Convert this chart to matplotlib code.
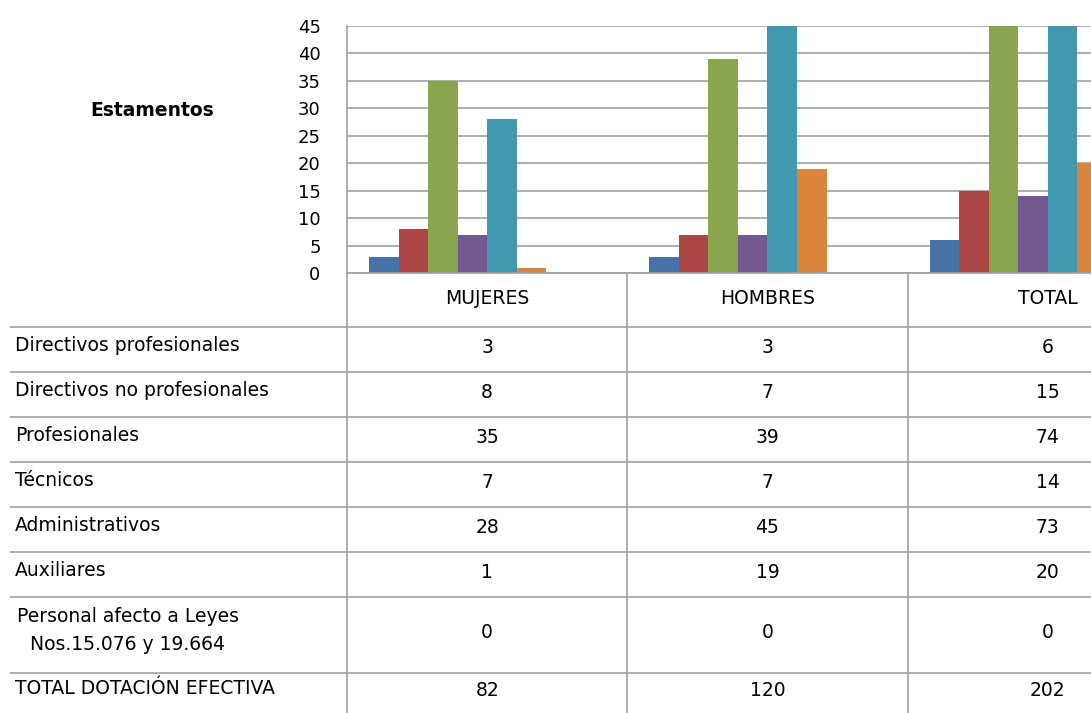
import numpy as np
import matplotlib
matplotlib.use("Agg")
import matplotlib.pyplot as plt

# --- data ---
groups = ["MUJERES", "HOMBRES", "TOTAL"]
estamentos = [
    "Directivos profesionales",
    "Directivos no profesionales",
    "Profesionales",
    "Técnicos",
    "Administrativos",
    "Auxiliares",
    "Personal afecto a Leyes\nNos.15.076 y 19.664",
    "TOTAL DOTACIÓN EFECTIVA",
]
dir_prof = [3, 3, 6]
dir_no_prof = [8, 7, 15]
profesionales = [35, 39, 74]
tecnicos = [7, 7, 14]
administrativos = [28, 45, 73]
auxiliares = [1, 19, 20]
leyes = [0, 0, 0]
total_dotacion = [82, 120, 202]
series = [dir_prof, dir_no_prof, profesionales, tecnicos,
          administrativos, auxiliares, leyes, total_dotacion]
yticks = [0, 5, 10, 15, 20, 25, 30, 35, 40, 45]

# office-style palette; the total row is kept out of the bars
colors = ["#4572A7", "#AA4643", "#89A54E", "#71588F",
          "#4198AF", "#DB843D", "#93A9CF", "none"]
grid_col = "#a0a0a0"

W, H = 1091, 713
fig = plt.figure(figsize=(W / 100, H / 100), dpi=100)
plt.rcParams["font.family"] = ["DejaVu Sans"]

# chart area (in pixels), the last category runs past the right edge
x0, x1 = 347, 1188
y_top, y_base = 26, 273
ax = fig.add_axes([x0 / W, 1 - y_base / H, (x1 - x0) / W, (y_base - y_top) / H])

n = len(series)
bw = 1.0 / (n + 1.5)
xc = np.arange(len(groups)) + 0.5
for i, (vals, c) in enumerate(zip(series, colors)):
    ax.bar(xc + (i - (n - 1) / 2) * bw, vals, bw, color=c, linewidth=0)

ax.set_xlim(0, len(groups))
ax.set_ylim(0, 45)
ax.set_yticks(yticks)
ax.set_xticks([])
ax.tick_params(axis="y", length=0, pad=19, labelsize=13)
ax.yaxis.grid(True, color=grid_col, linewidth=1.2)
ax.set_axisbelow(True)
for s in ["top", "right"]:
    ax.spines[s].set_visible(False)
for s in ["left", "bottom"]:
    ax.spines[s].set_color(grid_col)
    ax.spines[s].set_linewidth(1.2)

fig.text(152 / W, 1 - 111 / H, "Estamentos", fontsize=13.5, fontweight="bold",
         ha="center", va="center")

# --- data table underneath ---
tb = fig.add_axes([0, 0, 1, 1])
tb.set_xlim(0, W)
tb.set_ylim(H, 0)
tb.axis("off")

row_lines = [327, 372, 417, 462, 507, 552, 597, 673]
col_lines = [x0, 627, 908]
left_edge = 10
tb.hlines(row_lines, left_edge, W, color=grid_col, linewidth=1.2)
tb.vlines(col_lines, y_base, H, color=grid_col, linewidth=1.2)

col_w = (x1 - x0) / len(groups)
col_centers = [x0 + col_w * (k + 0.5) for k in range(len(groups))]
fs = 13.5
for k, g in enumerate(groups):
    tb.text(col_centers[k], 298, g, ha="center", va="center", fontsize=fs)

row_bounds = row_lines + [H]
for r, label in enumerate(estamentos):
    top, bot = row_bounds[r], row_bounds[r + 1]
    yc = (top + bot) / 2 - 4
    if "\n" in label:
        tb.text(17, yc, label, ha="left", va="center", fontsize=fs,
                multialignment="center", linespacing=1.6)
    else:
        tb.text(15, yc, label, ha="left", va="center", fontsize=fs)
    for k in range(len(groups)):
        tb.text(col_centers[k], yc + 2, str(series[r][k]), ha="center",
                va="center", fontsize=fs)

fig.savefig("out.png", dpi=100)
